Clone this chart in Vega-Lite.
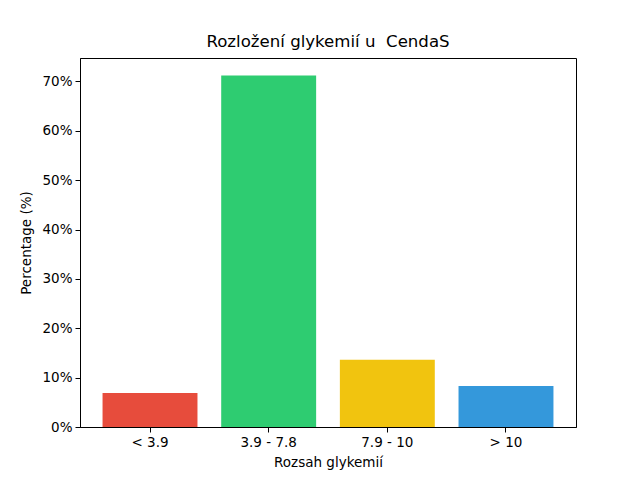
{
  "$schema": "https://vega.github.io/schema/vega-lite/v6.json",
  "autosize": {"type": "none"},
  "padding": {"left": 80, "top": 58, "right": 64, "bottom": 53},
  "width": 496,
  "height": 369,
  "background": "#ffffff",
  "title": {
    "text": "Rozložení glykemií u\u00a0 CendaS",
    "font": "DejaVu Sans",
    "fontSize": 16.6,
    "fontWeight": "normal",
    "color": "#000000",
    "offset": 7
  },
  "config": {
    "view": {"stroke": "#000000", "strokeWidth": 1},
    "axis": {
      "labelFont": "DejaVu Sans",
      "labelFontSize": 13.5,
      "labelColor": "#000000",
      "titleFont": "DejaVu Sans",
      "titleFontSize": 13.5,
      "titleFontWeight": "normal",
      "titleColor": "#000000",
      "domainColor": "#000000",
      "tickColor": "#000000",
      "tickSize": 5,
      "labelPadding": 3,
      "grid": false
    }
  },
  "data": {
    "values": [
      {"range": "< 3.9", "pct": 6.9},
      {"range": "3.9 - 7.8", "pct": 71.2},
      {"range": "7.9 - 10", "pct": 13.6},
      {"range": "> 10", "pct": 8.3}
    ]
  },
  "mark": {"type": "bar"},
  "encoding": {
    "x": {
      "field": "range",
      "type": "nominal",
      "sort": null,
      "title": "Rozsah glykemií",
      "scale": {"paddingInner": 0.2, "paddingOuter": 0.19},
      "axis": {"labelAngle": 0, "titlePadding": 7}
    },
    "y": {
      "field": "pct",
      "type": "quantitative",
      "title": "Percentage (%)",
      "scale": {"domain": [0, 74.76], "nice": false},
      "axis": {"values": [0, 10, 20, 30, 40, 50, 60, 70], "labelExpr": "datum.value + '%'", "titlePadding": 8}
    },
    "color": {
      "field": "range",
      "type": "nominal",
      "sort": null,
      "scale": {
        "domain": ["< 3.9", "3.9 - 7.8", "7.9 - 10", "> 10"],
        "range": ["#e74c3c", "#2ecc71", "#f1c40f", "#3498db"]
      },
      "legend": null
    }
  }
}
